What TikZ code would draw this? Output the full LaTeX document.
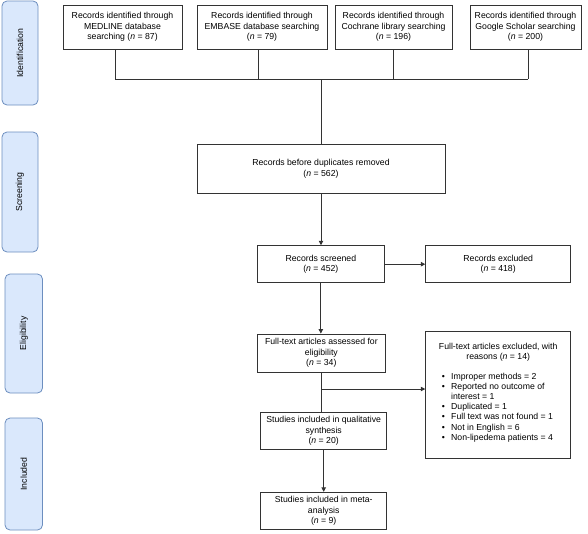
\documentclass[tikz,border=0pt]{standalone}
\usepackage{fontspec}
\setmainfont{Liberation Sans}
\usetikzlibrary{arrows.meta}
\definecolor{barfill}{HTML}{DAE8FC}
\definecolor{barline}{HTML}{6C8EBF}
\definecolor{ink}{HTML}{333333}
\begin{document}
\begin{tikzpicture}[x=1pt,y=-1pt,
  font=\fontsize{8.7}{10.6}\selectfont,
  box/.style={draw=ink, line width=0.9pt, fill=white, inner sep=0pt, align=center, text=black},
  bar/.style={draw=barline, fill=barfill, rounded corners=5pt, line width=0.8pt, inner sep=0pt, rotate=90},
  conn/.style={draw=ink, line width=0.9pt},
  arr/.style={conn, -{Triangle[length=4.5pt,width=4.5pt]}}]
\useasboundingbox (0,0) rectangle (588,533);

% phase bars
\node[bar, minimum width=104pt, minimum height=36pt] (idb) at (20,53) {Identification};
\node[bar, minimum width=120pt, minimum height=36pt] (scb) at (20,192) {Screening};
\node[bar, minimum width=119pt, minimum height=37.5pt] (elb) at (23.75,333.5) {Eligibility};
\node[bar, minimum width=112pt, minimum height=37.5pt] (inb) at (23.75,474) {Included};

% identification boxes
\node[box, minimum width=119pt, minimum height=44pt] (med) at (122.5,27)
  {Records identified through\\MEDLINE database\\searching (\textit{n} = 87)};
\node[box, minimum width=130pt, minimum height=44pt] (emb) at (262,27)
  {Records identified through\\EMBASE database searching\\(\textit{n} = 79)};
\node[box, minimum width=117pt, minimum height=44pt] (coc) at (393.5,27)
  {Records identified through\\Cochrane library searching\\(\textit{n} = 196)};
\node[box, minimum width=111pt, minimum height=44pt] (goo) at (525.5,27)
  {Records identified through\\Google Scholar searching\\(\textit{n} = 200)};

% other boxes
\node[box, minimum width=248pt, minimum height=49pt] (dup) at (321,168.5)
  {Records before duplicates removed\\(\textit{n} = 562)};
\node[box, minimum width=126.3pt, minimum height=37pt] (scr) at (320.85,264.2)
  {Records screened\\(\textit{n} = 452)};
\node[box, minimum width=145pt, minimum height=37pt] (exa) at (498.2,264.2)
  {Records excluded\\(\textit{n} = 418)};
\node[box, minimum width=128.7pt, minimum height=38pt] (ful) at (321.35,353)
  {Full-text articles assessed for\\eligibility\\(\textit{n} = 34)};
\node[box, minimum width=145pt, minimum height=126.3pt] (exb) at (498.2,394.85) {};
\node[anchor=north, align=center, inner sep=0pt] (exbhead) at (498.2,342.5)
  {Full-text articles excluded, with\\reasons (\textit{n} = 14)};
\node[anchor=north west, inner sep=0pt, font=\fontsize{8.7}{10.2}\selectfont] (exblist) at (441.6,371.8)
  {\begin{tabular}{@{}p{9.4pt}@{}l@{}}
   \textbullet & Improper methods = 2\\
   \textbullet & Reported no outcome of\\
               & interest = 1\\
   \textbullet & Duplicated = 1\\
   \textbullet & Full text was not found = 1\\
   \textbullet & Not in English = 6\\
   \textbullet & Non-lipedema patients = 4
   \end{tabular}};
\node[box, minimum width=126pt, minimum height=36.8pt] (qua) at (323.7,430.9)
  {Studies included in qualitative\\synthesis\\(\textit{n} = 20)};
\node[box, minimum width=126pt, minimum height=37pt] (met) at (323.7,510.8)
  {Studies included in meta-\\analysis\\(\textit{n} = 9)};

% junctions
\coordinate (j1) at (115,79);
\coordinate (j2) at (258,79);
\coordinate (j3) at (393,79);
\coordinate (j4) at (528,79);
\coordinate (jm) at (321,79);
\coordinate (b1) at (321.35,389);

\draw[conn] (med.south -| j1) -- (j1);
\draw[conn] (emb.south -| j2) -- (j2);
\draw[conn] (coc.south -| j3) -- (j3);
\draw[conn] (goo.south -| j4) -- (j4);
\draw[conn] (j1) -- (j4);
\draw[conn] (jm) -- (jm |- dup.north);
\draw[arr] (dup.south) -- (dup.south |- scr.north);
\draw[arr] (scr.east) -- (scr.east -| exa.west);
\draw[arr] (scr.south) -- (scr.south |- ful.north);
\draw[conn] (ful.south) -- (ful.south |- qua.north);
\draw[arr] (b1) -- (b1 -| exb.west);
\draw[arr] (qua.south) -- (met.north);
\end{tikzpicture}
\end{document}
